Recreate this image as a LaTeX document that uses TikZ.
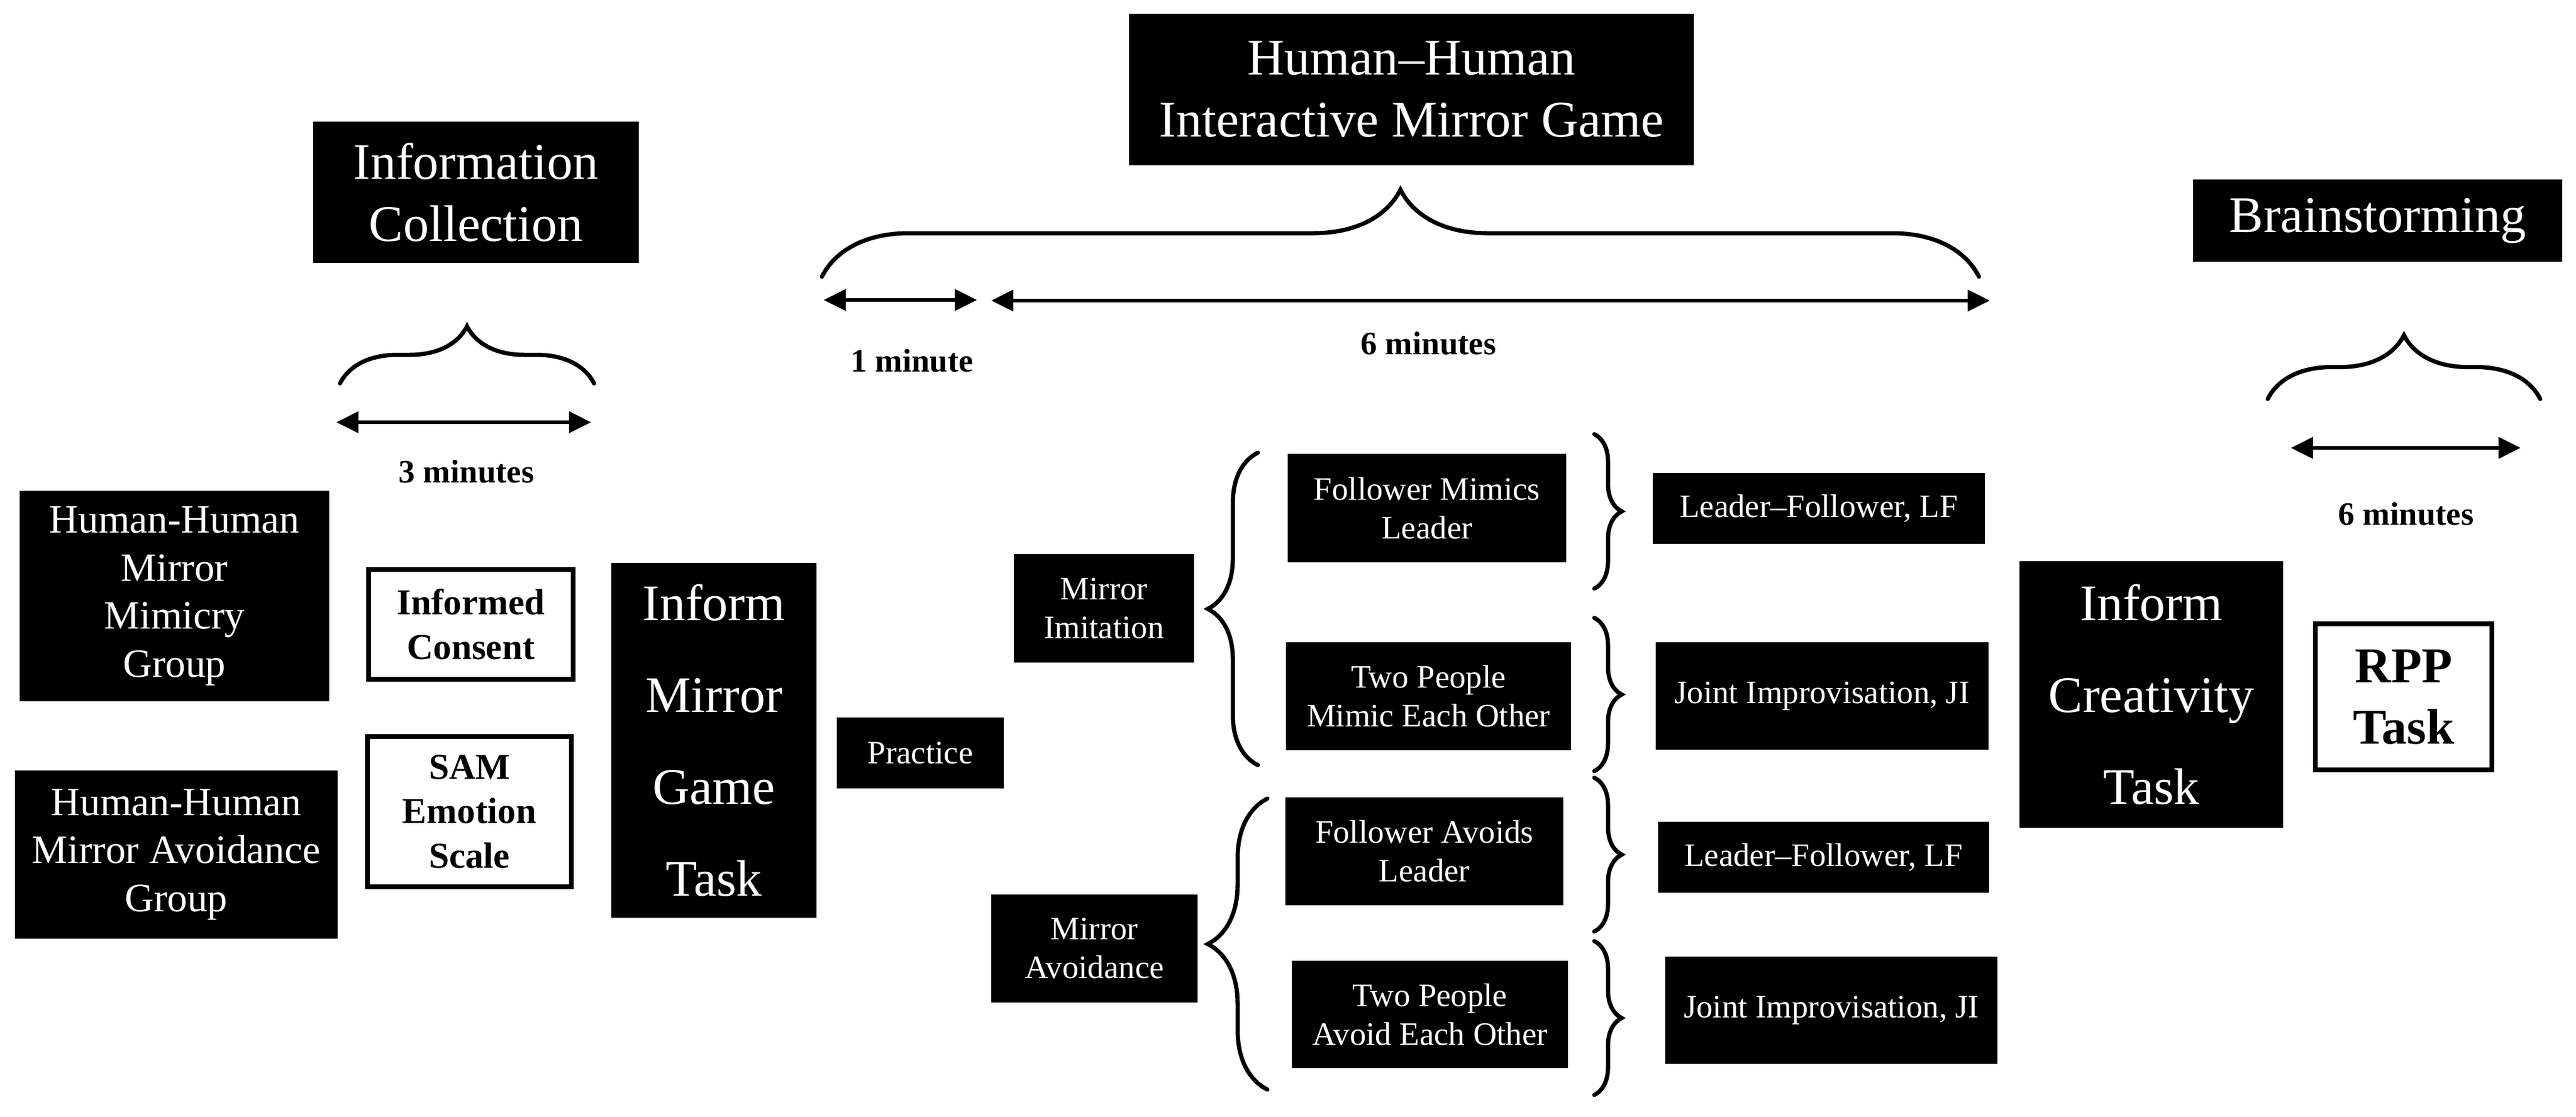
\documentclass[tikz,border=0pt]{standalone}
\usepackage{fontspec}
\setmainfont{Liberation Serif}
\usetikzlibrary{arrows.meta,decorations.pathreplacing}

\tikzset{
  blackbox/.style={fill=black,text=white,inner sep=0pt,align=center},
  whitebox/.style={draw=black,line width=2.2pt,fill=white,inner sep=0pt,align=center},
  bigtxt/.style={font=\fontsize{24.5}{29.5}\selectfont},
  tasktxt/.style={font=\fontsize{24.5}{43.8}\selectfont},
  grouptxt/.style={font=\fontsize{19.2}{23}\selectfont},
  smalltxt/.style={font=\fontsize{15.6}{18.5}\selectfont},
  curly/.style={decorate,decoration={brace,amplitude=#1},line width=2pt,line cap=round},
  span/.style={{Triangle[length=10.5pt,width=10pt]}-{Triangle[length=10.5pt,width=10pt]},line width=1.7pt},
  dur/.style={font=\fontsize{15.6}{18.5}\selectfont\bfseries}
}

\begin{document}
\begin{tikzpicture}
 \useasboundingbox (0,0) rectangle (43.19,-18.72);
 % stage titles
 \node[blackbox,bigtxt,minimum width=5.46cm,minimum height=2.37cm] (info) at (7.98,-3.225) {Information\\Collection};
 \node[blackbox,bigtxt,minimum width=9.47cm,minimum height=2.54cm] (game) at (23.665,-1.50) {Human–Human\\Interactive Mirror Game};
 \node[blackbox,bigtxt,minimum width=6.19cm,minimum height=1.38cm] (brain) at (39.865,-3.70) {Brainstorming};
 % braces under the titles
 \draw[curly=0.96cm] (5.70,-6.43) -- (9.96,-6.43);
 \draw[curly=1.46cm] (13.78,-4.64) -- (33.18,-4.64);
 \draw[curly=1.07cm] (38.02,-6.69) -- (42.59,-6.69);
 % durations
 \coordinate (t3a) at (5.64,-7.08); \coordinate (t3b) at (9.91,-7.08);
 \coordinate (t1a) at (13.81,-5.03); \coordinate (t1b) at (16.38,-5.03);
 \coordinate (t6a) at (16.62,-5.04); \coordinate (t6b) at (33.36,-5.04);
 \coordinate (t6c) at (38.41,-7.51); \coordinate (t6d) at (42.26,-7.51);
 \draw[span] (t3a) -- (t3b);
 \draw[span] (t1a) -- (t1b);
 \draw[span] (t6a) -- (t6b);
 \draw[span] (t6c) -- (t6d);
 \node[dur] (d3) at (7.82,-7.91) {3 minutes};
 \node[dur] (d1) at (15.29,-6.05) {1 minute};
 \node[dur] (d6) at (23.95,-5.76) {6 minutes};
 \node[dur] (d6b) at (40.34,-8.62) {6 minutes};
 % groups and information collection
 \node[blackbox,grouptxt,minimum width=5.19cm,minimum height=3.53cm] (mimgroup) at (2.925,-9.995) {Human-Human\\Mirror\\Mimicry\\Group};
 \node[blackbox,grouptxt,minimum width=5.41cm,minimum height=2.82cm] (avgroup) at (2.955,-14.33) {Human-Human\\Mirror Avoidance\\Group};
 \node[whitebox,font=\fontsize{17.4}{21.3}\selectfont\bfseries,minimum width=3.43cm,minimum height=1.84cm] (consent) at (7.895,-10.47) {Informed\\Consent};
 \node[whitebox,font=\fontsize{17.4}{21.3}\selectfont\bfseries,minimum width=3.42cm,minimum height=2.52cm] (sam) at (7.87,-13.61) {SAM\\Emotion\\Scale};
 \node[blackbox,tasktxt,minimum width=3.44cm,minimum height=5.95cm] (informgame) at (11.97,-12.415) {Inform\\Mirror\\Game\\Task};
 \node[blackbox,smalltxt,minimum width=2.80cm,minimum height=1.19cm] (practice) at (15.43,-12.625) {Practice};
 % mirror game conditions
 \node[blackbox,smalltxt,minimum width=3.02cm,minimum height=1.82cm] (imitation) at (18.51,-10.20) {Mirror\\Imitation};
 \node[blackbox,smalltxt,minimum width=3.46cm,minimum height=1.81cm] (avoidance) at (18.35,-15.905) {Mirror\\Avoidance};
 \draw[curly=0.84cm] (21.09,-12.83) -- (21.09,-7.59);
 \draw[curly=1.0cm] (21.25,-18.27) -- (21.25,-13.39);
 \node[blackbox,smalltxt,minimum width=4.67cm,minimum height=1.82cm] (mimlead) at (23.925,-8.52) {Follower Mimics\\Leader};
 \node[blackbox,smalltxt,minimum width=4.78cm,minimum height=1.81cm] (mimeach) at (23.95,-11.675) {Two People\\Mimic Each Other};
 \node[blackbox,smalltxt,minimum width=4.66cm,minimum height=1.81cm] (avlead) at (23.88,-14.275) {Follower Avoids\\Leader};
 \node[blackbox,smalltxt,minimum width=4.63cm,minimum height=1.80cm] (aveach) at (23.975,-17.01) {Two People\\Avoid Each Other};
 \draw[curly=0.46cm] (26.73,-7.28) -- (26.73,-9.87);
 \draw[curly=0.46cm] (26.73,-10.36) -- (26.73,-12.93);
 \draw[curly=0.46cm] (26.73,-13.04) -- (26.73,-15.62);
 \draw[curly=0.46cm] (26.73,-15.78) -- (26.73,-18.36);
 \node[blackbox,smalltxt,minimum width=5.57cm,minimum height=1.19cm] (lfmim) at (30.495,-8.525) {Leader–Follower, LF};
 \node[blackbox,smalltxt,minimum width=5.58cm,minimum height=1.80cm] (jimim) at (30.55,-11.67) {Joint Improvisation, JI};
 \node[blackbox,smalltxt,minimum width=5.55cm,minimum height=1.19cm] (lfav) at (30.575,-14.375) {Leader–Follower, LF};
 \node[blackbox,smalltxt,minimum width=5.57cm,minimum height=1.80cm] (jiav) at (30.705,-16.94) {Joint Improvisation, JI};
 % brainstorming
 \node[blackbox,tasktxt,minimum width=4.42cm,minimum height=4.47cm] (informcreat) at (36.07,-11.645) {Inform\\Creativity\\Task};
 \node[whitebox,font=\fontsize{23.9}{29.3}\selectfont\bfseries,minimum width=2.96cm,minimum height=2.45cm] (rpp) at (40.30,-11.685) {RPP\\Task};
\end{tikzpicture}
\end{document}
